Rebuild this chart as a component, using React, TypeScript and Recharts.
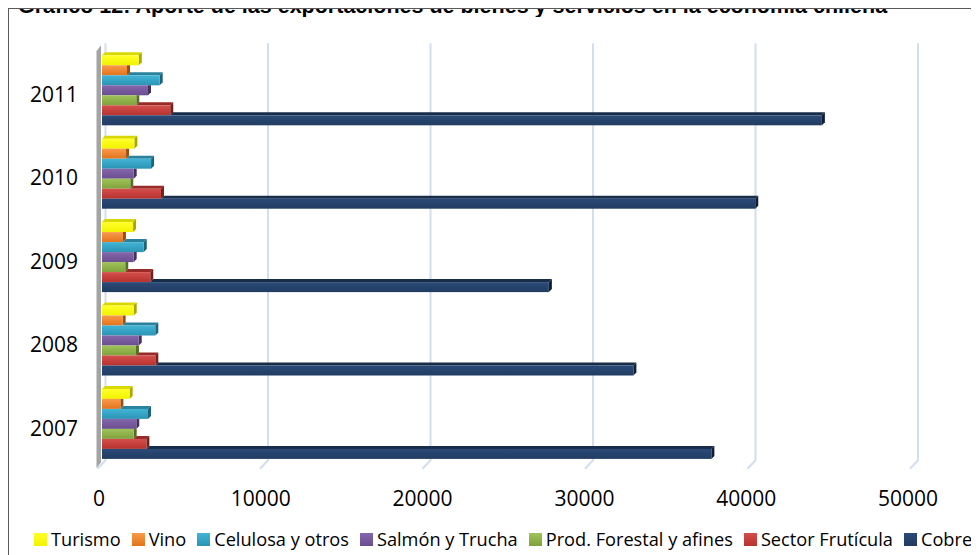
import React from 'react';
import { BarChart, Bar, XAxis, YAxis, CartesianGrid, Legend } from 'recharts';

// Export values (millones de US$) per year, top group first
const years = ['2011', '2010', '2009', '2008', '2007'];
const turismo = [2260, 1990, 1910, 1950, 1700];
const vino = [1540, 1480, 1290, 1270, 1130];
const celulosa = [3550, 3020, 2570, 3280, 2830];
const salmon = [2830, 1950, 1950, 2260, 2110];
const forestal = [2110, 1740, 1430, 2090, 1950];
const fruticola = [4200, 3630, 2970, 3280, 2730];
const cobre = [44300, 40200, 27500, 32700, 37500];
const xTicks = [0, 10000, 20000, 30000, 40000, 50000];

const seriesKeys = ['turismo', 'vino', 'celulosa', 'salmon', 'forestal', 'fruticola', 'cobre'];
const seriesNames = [
  'Turismo',
  'Vino',
  'Celulosa y otros',
  'Salmón y Trucha',
  'Prod. Forestal y afines',
  'Sector Frutícula',
  'Cobre',
];
const seriesValues = [turismo, vino, celulosa, salmon, forestal, fruticola, cobre];

const TITLE =
  'Gráfico 12: Aporte de las exportaciones de bienes y servicios en la economía chilena';

// front gradient (light, dark), top face, side face
const palette = [
  { light: '#ffff2a', dark: '#f2f200', top: '#d8d800', side: '#a8a800' },
  { light: '#f99a4c', dark: '#e2741c', top: '#c8661c', side: '#9e4f10' },
  { light: '#42b4d6', dark: '#2b94b4', top: '#2a819c', side: '#1d6278' },
  { light: '#8567ab', dark: '#6a4e90', top: '#5a427c', side: '#44315e' },
  { light: '#9fc25a', dark: '#80a23c', top: '#6f8e33', side: '#566f26' },
  { light: '#d4504c', dark: '#b83230', top: '#982a27', side: '#72201e' },
  { light: '#2a4a76', dark: '#213c62', top: '#182d4a', side: '#101f35' },
];

const data = years.map((year, i) => {
  const row: Record<string, string | number> = { year };
  seriesKeys.forEach((k, s) => {
    row[k] = seriesValues[s][i];
  });
  return row;
});

const FONT = '"Open Sans", "Noto Sans", sans-serif';
const DEPTH = 3;

// 3D bar: front face, visible part of the top face, right side face
function makeBarShape(idx: number) {
  return (props: any) => {
    const { x, y, width, height, payload } = props;
    if (!width || width <= 0) return null;
    const c = palette[idx];
    const value = Number(payload[seriesKeys[idx]]);
    const perUnit = width / value;
    const right = x + width;
    const prevEnd =
      idx > 0 ? x + Number(payload[seriesKeys[idx - 1]]) * perUnit : -Infinity;
    const d = DEPTH;
    const topStart = Math.max(x, prevEnd);
    const hidden = prevEnd > right;
    const side = hidden
      ? `${right},${y} ${right + d},${y} ${right + d},${y + height - d} ${right},${y + height}`
      : `${right},${y} ${right + d},${y - d} ${right + d},${y + height - d} ${right},${y + height}`;
    return (
      <g>
        {topStart < right && (
          <polygon
            points={`${topStart},${y} ${right},${y} ${right + d},${y - d} ${topStart + d},${y - d}`}
            fill={c.top}
          />
        )}
        <polygon points={side} fill={c.side} />
        <rect x={x} y={y} width={width} height={height} fill={`url(#barGrad${idx})`} />
      </g>
    );
  };
}

// Back-wall grid line with a short floor segment, plus the grey side wall
const GridLine = (props: any) => {
  const { x1, y1, y2, index } = props;
  const bx = x1 + 3.5;
  return (
    <g key={`g-${index}-${x1}`}>
      {index === 0 && (
        <polygon
          points={`${x1 - 5.5},${y1 + 2} ${x1 - 1},${y1 - 4} ${x1 - 1},${y2 - 4} ${x1 - 5.5},${y2 + 2}`}
          fill="#a4a4a4"
        />
      )}
      <path
        d={`M${bx},${y1 - 6} L${bx},${y2 - 6} L${x1 - 4.5},${y2 + 2.5}`}
        stroke="#d3deee"
        strokeWidth={2}
        fill="none"
      />
    </g>
  );
};

const XTick = (props: any) => {
  const { x, y, payload, index } = props;
  return (
    <text
      x={x - 3 - 0.7 * index}
      y={y + 32}
      textAnchor="middle"
      dominantBaseline="central"
      fontFamily={FONT}
      fontSize={21}
      fill="#000"
    >
      {payload.value}
    </text>
  );
};

const YTick = (props: any) => {
  const { x, y, payload } = props;
  return (
    <text
      x={x - 24}
      y={y + 3}
      textAnchor="end"
      dominantBaseline="central"
      fontFamily={FONT}
      fontSize={21}
      fill="#000"
    >
      {payload.value}
    </text>
  );
};

const LegendContent = () => (
  <div
    style={{
      display: 'flex',
      alignItems: 'center',
      fontFamily: FONT,
      fontSize: 18.2,
      color: '#000',
      whiteSpace: 'nowrap',
      lineHeight: '24px',
    }}
  >
    {seriesNames.map((name, i) => (
      <span
        key={name}
        style={{ display: 'flex', alignItems: 'center', marginRight: 11, flexShrink: 0 }}
      >
        <span
          style={{
            display: 'inline-block',
            width: 13,
            height: 13,
            marginRight: 4,
            background: `linear-gradient(${palette[i].light}, ${palette[i].dark})`,
          }}
        />
        {name}
      </span>
    ))}
  </div>
);

export default function App() {
  return (
    <div style={{ position: 'relative', top: -8, width: 971, height: 555 }}>
      {/* heading strip above the frame; only its lower part falls inside the page */}
      <svg
        width={979}
        height={17}
        style={{ position: 'absolute', left: -8, top: 0, overflow: 'hidden' }}
      >
        <text
          x={18}
          y={12.5}
          fontFamily='"Liberation Sans", Arial, sans-serif'
          fontWeight="bold"
          fontSize={21.5}
          fill="#000"
        >
          {TITLE}
        </text>
      </svg>
      <div style={{ position: 'absolute', left: 0, top: 8 }}>
        <BarChart
          width={971}
          height={547}
          data={data}
          layout="vertical"
          margin={{ top: 41.3, right: 64.5, bottom: 28.7, left: 0 }}
          barCategoryGap={6}
          barGap={0}
        >
          <defs>
            {palette.map((c, i) => (
              <linearGradient key={i} id={`barGrad${i}`} x1="0" y1="0" x2="0" y2="1">
                <stop offset="0%" stopColor={c.light} />
                <stop offset="100%" stopColor={c.dark} />
              </linearGradient>
            ))}
          </defs>
          <CartesianGrid horizontal={false} vertical={GridLine} />
          <XAxis
            type="number"
            domain={[0, 50000]}
            ticks={xTicks}
            interval={0}
            axisLine={false}
            tickLine={false}
            tickSize={0}
            tickMargin={0}
            height={60}
            tick={XTick}
          />
          <YAxis
            type="category"
            dataKey="year"
            width={94}
            axisLine={false}
            tickLine={false}
            tickSize={0}
            tickMargin={0}
            tick={YTick}
          />
          <Legend
            layout="horizontal"
            verticalAlign="middle"
            align="center"
            wrapperStyle={{ top: 519, left: 26, width: 'auto' }}
            content={LegendContent}
          />
          {seriesKeys.map((k, i) => (
            <Bar
              key={k}
              dataKey={k}
              name={seriesNames[i]}
              isAnimationActive={false}
              shape={makeBarShape(i)}
            />
          ))}
        </BarChart>
      </div>
      <div
        style={{
          position: 'absolute',
          left: 0,
          top: 8,
          width: 971,
          height: 547,
          borderLeft: '1px solid #5a5a5a',
          borderTop: '1px solid #5a5a5a',
          boxSizing: 'border-box',
          pointerEvents: 'none',
        }}
      />
    </div>
  );
}
